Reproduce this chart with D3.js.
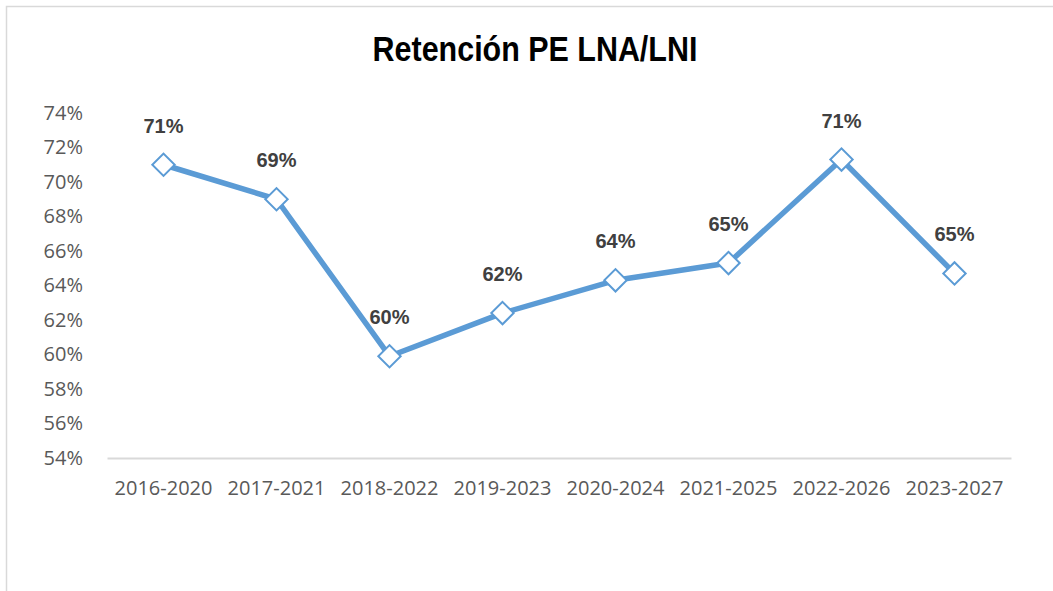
<!DOCTYPE html>
<html>
<head>
<meta charset="utf-8">
<script src="https://cdn.jsdelivr.net/npm/d3@7"></script>
<style>
  body { margin: 0; background: #fff; }
  svg { display: block; }
</style>
</head>
<body>
<svg id="chart" width="1053" height="591"></svg>
<script>
// periods and retention values (percent)
var periods = ["2016-2020", "2017-2021", "2018-2022", "2019-2023", "2020-2024", "2021-2025", "2022-2026", "2023-2027"]
var retention = [71.0, 69.0, 59.9, 62.4, 64.3, 65.3, 71.3, 64.7]
var labels = ["71%", "69%", "60%", "62%", "64%", "65%", "71%", "65%"]
var yTicks = [54, 56, 58, 60, 62, 64, 66, 68, 70, 72, 74]

var width = 1053, height = 591
var margin = {top: 113, left: 107, bottom: 133, right: 42}

var svg = d3.select("#chart")

// chart frame (runs off the right/bottom edge like the screenshot)
svg.append("rect")
  .attr("x", 6.5).attr("y", 6.5)
  .attr("width", width + 20).attr("height", height + 20)
  .attr("fill", "#fff")
  .attr("stroke", "#d9d9d9")
  .attr("stroke-width", 1.5)

// title is a condensed bold face in the original, squeeze Arial a bit
svg.append("text")
  .attr("transform", "translate(535,61)scale(0.87,1)")
  .attr("text-anchor", "middle")
  .attr("font-family", "Liberation Sans, Arial, sans-serif")
  .attr("font-weight", "bold")
  .attr("font-size", 35)
  .attr("fill", "#000")
  .text("Retención PE LNA/LNI")

var g = svg.append("g")
  .attr("transform", "translate(" + margin.left + "," + margin.top + ")")

var w = width - margin.left - margin.right
var h = height - margin.top - margin.bottom

var xScale = d3.scaleBand().domain(periods).range([0, w])
var yScale = d3.scaleLinear().domain([54, 74]).range([h, 0])

var xAxis = g.append("g")
  .attr("transform", "translate(0," + h + ")")
  .call(d3.axisBottom(xScale).tickSize(0).tickPadding(23))
xAxis.select(".domain").attr("stroke", "#d9d9d9").attr("stroke-width", 2)
xAxis.selectAll("text")
  .attr("font-family", "Open Sans, sans-serif")
  .attr("font-size", 20)
  .attr("fill", "#595959")

var yAxis = g.append("g")
  .call(d3.axisLeft(yScale).tickValues(yTicks).tickSize(0).tickPadding(24)
    .tickFormat(function(d) { return d + "%" }))
yAxis.select(".domain").remove()
yAxis.selectAll("text")
  .attr("font-family", "Open Sans, sans-serif")
  .attr("font-size", 20)
  .attr("fill", "#595959")

var data = periods.map(function(p, i) { return {period: p, value: retention[i], label: labels[i]} })

var line = d3.line()
  .x(function(d) { return xScale(d.period) + xScale.bandwidth() / 2 })
  .y(function(d) { return yScale(d.value) })

g.append("path")
  .datum(data)
  .attr("fill", "none")
  .attr("stroke", "#5b9bd5")
  .attr("stroke-width", 5.5)
  .attr("stroke-linejoin", "round")
  .attr("d", line)

var diamond = d3.symbol().type(d3.symbolSquare).size(250)

g.selectAll(".marker")
  .data(data)
  .enter().append("path")
  .attr("class", "marker")
  .attr("d", diamond)
  .attr("transform", function(d) {
    return "translate(" + [xScale(d.period) + xScale.bandwidth() / 2, yScale(d.value)] + ")rotate(45)"
  })
  .attr("fill", "#fff")
  .attr("stroke", "#5b9bd5")
  .attr("stroke-width", 2)

g.selectAll(".dlabel")
  .data(data)
  .enter().append("text")
  .attr("class", "dlabel")
  .attr("x", function(d) { return xScale(d.period) + xScale.bandwidth() / 2 })
  .attr("y", function(d) { return yScale(d.value) - 32 })
  .attr("text-anchor", "middle")
  .attr("font-family", "Liberation Sans, Arial, sans-serif")
  .attr("font-weight", "bold")
  .attr("font-size", 20)
  .attr("fill", "#404040")
  .text(function(d) { return d.label })
</script>
</body>
</html>
